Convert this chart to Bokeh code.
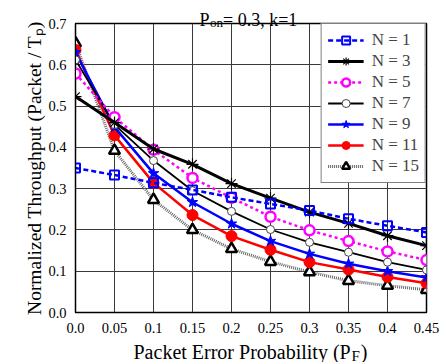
from bokeh.plotting import figure
from bokeh.models import Label, Legend, LegendItem, FixedTicker, NumeralTickFormatter, Range1d
from bokeh.embed import file_html
from bokeh.resources import INLINE

pf = [0.0, 0.05, 0.1, 0.15, 0.2, 0.25, 0.3, 0.35, 0.4, 0.45]
n1 = [0.350, 0.333, 0.314, 0.297, 0.279, 0.263, 0.247, 0.227, 0.210, 0.194]
n3 = [0.523, 0.460, 0.396, 0.359, 0.312, 0.277, 0.243, 0.216, 0.186, 0.162]
n5 = [0.579, 0.473, 0.394, 0.326, 0.278, 0.232, 0.199, 0.173, 0.148, 0.127]
n7 = [0.612, 0.455, 0.368, 0.295, 0.245, 0.201, 0.170, 0.146, 0.122, 0.103]
n9 = [0.630, 0.449, 0.337, 0.267, 0.215, 0.173, 0.142, 0.118, 0.100, 0.085]
n11 = [0.636, 0.429, 0.314, 0.236, 0.185, 0.152, 0.122, 0.104, 0.086, 0.071]
n15 = [0.652, 0.392, 0.273, 0.200, 0.154, 0.123, 0.098, 0.077, 0.065, 0.055]
x_ticks = [0.0, 0.05, 0.1, 0.15, 0.2, 0.25, 0.3, 0.35, 0.4, 0.45]
y_ticks = [0.0, 0.1, 0.2, 0.3, 0.4, 0.5, 0.6, 0.7]

FONT = "Liberation Serif"
W, H = 445, 362
FL, FT, FRX, FBY = 75, 23, 426, 312   # frame edges in canvas pixels

p = figure(width=W, height=H, output_backend="svg", toolbar_location=None,
           x_range=Range1d(0, 0.45), y_range=Range1d(0, 0.7),
           min_border_left=FL, min_border_right=W - FRX, min_border_top=FT, min_border_bottom=H - FBY)
p.outline_line_color = "black"
p.outline_line_width = 1.5
p.background_fill_color = "white"
p.border_fill_color = "white"

for ax in (p.xaxis[0], p.yaxis[0]):
    ax.major_tick_out = 0
    ax.major_tick_in = 0
    ax.minor_tick_out = 0
    ax.minor_tick_in = 0
    ax.axis_line_color = "black"
    ax.major_label_text_font = FONT
    ax.major_label_text_font_size = "14.5px"
    ax.major_label_text_color = "black"
p.xaxis.major_label_standoff = 10
p.yaxis.major_label_standoff = 9
p.xaxis.ticker = FixedTicker(ticks=x_ticks)
p.yaxis.ticker = FixedTicker(ticks=y_ticks)
p.xaxis.formatter = NumeralTickFormatter(format="0.0[0]")
p.yaxis.formatter = NumeralTickFormatter(format="0.0")
p.xgrid.ticker = FixedTicker(ticks=x_ticks)
p.ygrid.ticker = FixedTicker(ticks=y_ticks)
for g in (p.xgrid[0], p.ygrid[0]):
    g.grid_line_color = "#3a3a3a"
    g.grid_line_width = 1

p.yaxis.axis_label = "Normalized Throughput (Packet / T\u209a)"
p.yaxis.axis_label_text_font = FONT
p.yaxis.axis_label_text_font_size = "19.5px"
p.yaxis.axis_label_text_font_style = "normal"
p.yaxis.axis_label_text_color = "black"
p.yaxis.axis_label_standoff = 0

# N = 15
l15 = p.line(pf, n15, line_color="#666666", line_width=3, line_dash="1 1")
m15 = p.scatter(pf, n15, marker="triangle", size=11, line_color="black", line_width=2.5, fill_color="white")
# N = 11
l11 = p.line(pf, n11, line_color="red", line_width=2.5)
m11 = p.scatter(pf, n11, marker="circle", size=11, line_color="red", fill_color="red")
# N = 9
l9 = p.line(pf, n9, line_color="blue", line_width=2.5)
m9 = p.scatter(pf, n9, marker="star", size=11, line_color="blue", fill_color="blue")
# N = 7
l7 = p.line(pf, n7, line_color="black", line_width=1.8)
m7 = p.scatter(pf, n7, marker="circle", size=8, line_color="#444444", line_width=1, fill_color="white")
# N = 5
l5 = p.line(pf, n5, line_color="magenta", line_width=2.5, line_dash="3 3")
m5 = p.scatter(pf, n5, marker="circle", size=10, line_color="magenta", line_width=2.5, fill_color="white")
# N = 3
l3 = p.line(pf, n3, line_color="black", line_width=3)
m3 = p.scatter(pf, n3, marker="asterisk", size=12, line_color="black", line_width=1.2)
# N = 1
l1 = p.line(pf, n1, line_color="blue", line_width=2.5, line_dash="5 3")
m1 = p.scatter(pf, n1, marker="square", size=9, line_color="blue", line_width=2, fill_alpha=0)

legend = Legend(items=[
    LegendItem(label="N = 1", renderers=[l1, m1]),
    LegendItem(label="N = 3", renderers=[l3, m3]),
    LegendItem(label="N = 5", renderers=[l5, m5]),
    LegendItem(label="N = 7", renderers=[l7, m7]),
    LegendItem(label="N = 9", renderers=[l9, m9]),
    LegendItem(label="N = 11", renderers=[l11, m11]),
    LegendItem(label="N = 15", renderers=[l15, m15]),
], location="top_right", margin=0, padding=6, spacing=1,
    glyph_width=36, glyph_height=20, label_height=20, label_standoff=8,
    label_text_font=FONT, label_text_font_size="17px",
    border_line_color="black", border_line_width=1, background_fill_alpha=1)
p.add_layout(legend, "center")

# text pieces placed (in data units) via side panels so they are not clipped to the frame
def dx(X):
    return 0.45 * (X - FL) / (FRX - FL)

def dy(Y):
    return 0.7 * (FBY - Y) / (FBY - FT)

def lab(text, X, Y, size, side, align="left"):
    p.add_layout(Label(x=dx(X), y=dy(Y), x_units="data", y_units="data", text=text,
                       text_font=FONT, text_font_size=size, text_color="black",
                       text_align=align, text_baseline="alphabetic"), side)

NB = "\u00a0"
# title: P_on= 0.3, k=1
lab("P" + NB * 3 + "= 0.3, k=1", 199, 19, "18px", "above")
lab("on", 209.5, 22, "13px", "right")

# x axis title: Packet Error Probability (P_F)
lab("Packet Error Probability (P" + NB * 2 + ")", 133, 351, "20px", "below")
lab("F", 351, 355, "15px", "left")

open("out.html", "w").write(file_html(p, INLINE))
